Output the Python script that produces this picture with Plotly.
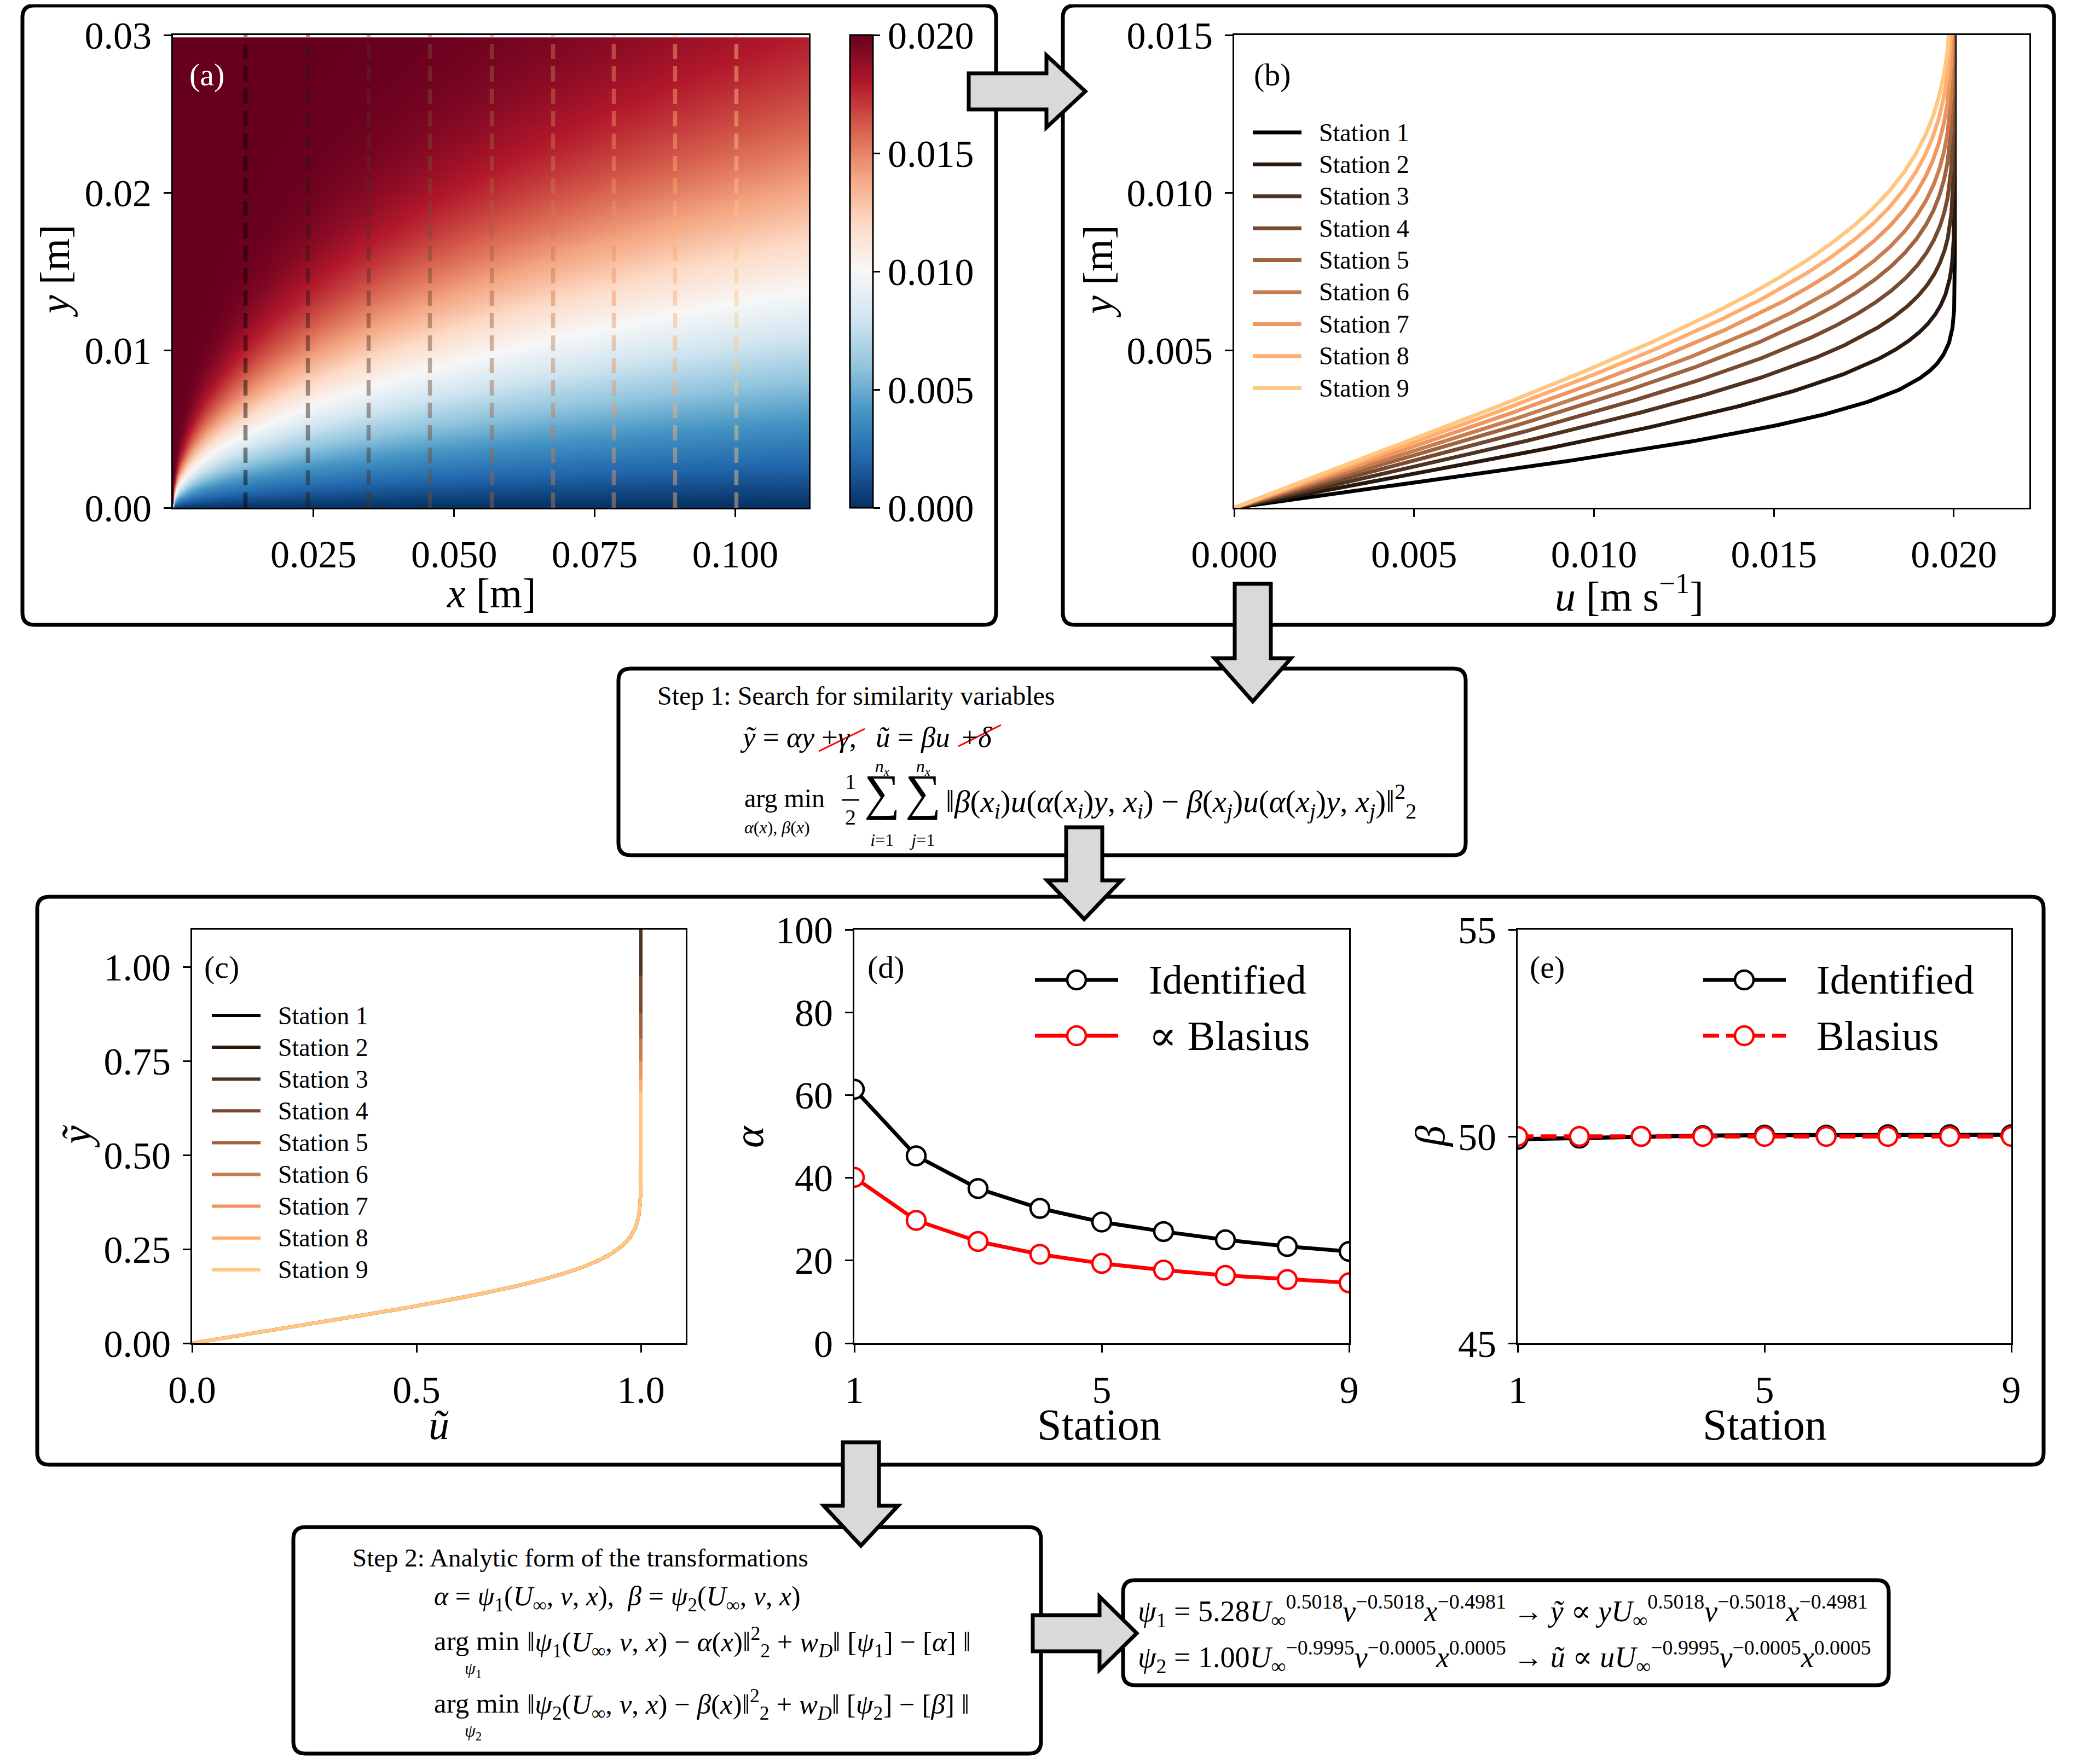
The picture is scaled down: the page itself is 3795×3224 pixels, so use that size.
import numpy as np
import plotly.graph_objects as go

W, H = 3795, 3224
PAGE_OFFSET = 8          # default body margin of the html page
SERIF = "Liberation Serif, DejaVu Serif, serif"

# ---------------- data ----------------
stations = [1, 2, 3, 4, 5, 6, 7, 8, 9]
station_x = [0.0129, 0.0240, 0.0348, 0.0457, 0.0567, 0.0676, 0.0784, 0.0893, 0.1002]
alpha_identified = [61.4, 45.3, 37.4, 32.6, 29.3, 27.0, 25.0, 23.4, 22.2]
alpha_blasius = [40.1, 29.7, 24.6, 21.5, 19.3, 17.7, 16.4, 15.4, 14.6]
beta_identified = [49.93, 49.96, 50.00, 50.02, 50.03, 50.03, 50.04, 50.04, 50.04]
beta_blasius = [50.0, 50.0, 50.0, 50.0, 50.0, 50.0, 50.0, 50.0, 50.0]
# collapsed similarity profile (panel c): u_tilde as a function of y_tilde
profile_y_tilde = [0.0, 0.0128, 0.0256, 0.0384, 0.0512, 0.064, 0.0768, 0.0896, 0.1024,
                   0.1152, 0.128, 0.1408, 0.1536, 0.1664, 0.1792, 0.192, 0.2048, 0.2176,
                   0.2304, 0.2432, 0.256, 0.2688, 0.2816, 0.2944, 0.3072, 0.32, 0.3328,
                   0.3456, 0.3584, 0.3712, 0.384, 0.4096, 0.448]
profile_u_tilde = [0.0, 0.0664, 0.1328, 0.1989, 0.2647, 0.3298, 0.3938, 0.4563, 0.5168,
                   0.5748, 0.6298, 0.6813, 0.7290, 0.7725, 0.8115, 0.8460, 0.8761, 0.9018,
                   0.9233, 0.9411, 0.9555, 0.9670, 0.9759, 0.9827, 0.9878, 0.9916, 0.9943,
                   0.9962, 0.9975, 0.9984, 0.9990, 0.9996, 1.0]
u_inf = 0.02
heat_ref_x = 0.1        # x where the u = U/2 contour height was read in panel (a)
heat_half_y = 0.0130    # height of the u = U/2 contour at heat_ref_x
y_max_data = 0.03

ticks_a_x = [0.025, 0.050, 0.075, 0.100]
ticks_a_y = [0.00, 0.01, 0.02, 0.03]
ticks_cbar = [0.000, 0.005, 0.010, 0.015, 0.020]
ticks_b_x = [0.000, 0.005, 0.010, 0.015, 0.020]
ticks_b_y = [0.005, 0.010, 0.015]
ticks_c_x = [0.0, 0.5, 1.0]
ticks_c_y = [0.00, 0.25, 0.50, 0.75, 1.00]
ticks_d_y = [0, 20, 40, 60, 80, 100]
ticks_e_y = [45, 50, 55]
ticks_station = [1, 5, 9]

RDBU_R = [[0.0, "rgb(5,48,97)"], [0.1, "rgb(33,102,172)"], [0.2, "rgb(67,147,195)"],
          [0.3, "rgb(146,197,222)"], [0.4, "rgb(209,229,240)"], [0.5, "rgb(247,247,247)"],
          [0.6, "rgb(253,219,199)"], [0.7, "rgb(244,165,130)"], [0.8, "rgb(214,96,77)"],
          [0.9, "rgb(178,24,43)"], [1.0, "rgb(103,0,31)"]]


def copper(t):
    r = min(1.0, 1.25 * t)
    g = 0.7812 * t
    b = 0.4975 * t
    return "rgb(%d,%d,%d)" % (round(255 * r), round(255 * g), round(255 * b))


station_colors = [copper(i / 8) for i in range(9)]

TICK = 70
TITLE = 76
NB = "\u00a0"


# ---------------- helpers (page pixel -> paper fraction) ----------------
def X(p):
    return (p - PAGE_OFFSET) / W


def Y(p):
    return 1 - (p - PAGE_OFFSET) / H


def ann(x, y, text, size, xanchor="left", color="black", angle=0, yanchor="middle", align="center"):
    return dict(x=X(x), y=Y(y), xref="paper", yref="paper", text=text, showarrow=False,
                xanchor=xanchor, yanchor=yanchor, textangle=angle, align=align,
                font=dict(family=SERIF, size=size, color=color))


def sz(text, size):
    return f"<span style='font-size:{size}px'>{text}</span>"


def rounded_box(x0, y0, x1, y1, r=22, lw=7):
    p = (f"M {X(x0 + r)},{Y(y0)} L {X(x1 - r)},{Y(y0)} Q {X(x1)},{Y(y0)} {X(x1)},{Y(y0 + r)} "
         f"L {X(x1)},{Y(y1 - r)} Q {X(x1)},{Y(y1)} {X(x1 - r)},{Y(y1)} "
         f"L {X(x0 + r)},{Y(y1)} Q {X(x0)},{Y(y1)} {X(x0)},{Y(y1 - r)} "
         f"L {X(x0)},{Y(y0 + r)} Q {X(x0)},{Y(y0)} {X(x0 + r)},{Y(y0)} Z")
    return dict(type="path", path=p, xref="paper", yref="paper",
                line=dict(color="black", width=lw), fillcolor="rgba(0,0,0,0)", layer="above")


def right_arrow(x0, xb, xt, yc, hs, hh):
    pts = [(x0, yc - hs), (xb, yc - hs), (xb, yc - hh), (xt, yc), (xb, yc + hh), (xb, yc + hs), (x0, yc + hs)]
    p = "M " + " L ".join(f"{X(a)},{Y(b)}" for a, b in pts) + " Z"
    return dict(type="path", path=p, xref="paper", yref="paper",
                line=dict(color="black", width=7), fillcolor="#d9d9d9", layer="above")


def down_arrow(xc, y0, yb, yt, hs, hh):
    pts = [(xc - hs, y0), (xc + hs, y0), (xc + hs, yb), (xc + hh, yb), (xc, yt), (xc - hh, yb), (xc - hs, yb)]
    p = "M " + " L ".join(f"{X(a)},{Y(b)}" for a, b in pts) + " Z"
    return dict(type="path", path=p, xref="paper", yref="paper",
                line=dict(color="black", width=7), fillcolor="#d9d9d9", layer="above")


def pline(x0, y0, x1, y1, color="black", width=6, dash="solid"):
    return dict(type="line", xref="paper", yref="paper", x0=X(x0), y0=Y(y0), x1=X(x1), y1=Y(y1),
                line=dict(color=color, width=width, dash=dash), layer="above")


def pcircle(xc, yc, r, color, width=4.5):
    return dict(type="circle", xref="paper", yref="paper", x0=X(xc - r), x1=X(xc + r),
                y0=Y(yc + r), y1=Y(yc - r), line=dict(color=color, width=width),
                fillcolor="white", layer="above")


def axis(dom_px, rng, tickvals, fmt, anchor, vertical=False):
    if vertical:
        domain = [Y(dom_px[1]), Y(dom_px[0])]
    else:
        domain = [X(dom_px[0]), X(dom_px[1])]
    return dict(domain=domain, range=rng, tickmode="array", tickvals=tickvals,
                ticktext=[format(v, fmt) for v in tickvals], showline=True, linecolor="black",
                linewidth=3, mirror=True, ticks="outside", ticklen=14, tickwidth=3,
                tickcolor="black", tickfont=dict(family=SERIF, size=TICK, color="black"),
                showgrid=False, zeroline=False, anchor=anchor, ticklabelstandoff=8,
                automargin=False)


# ---------------- derived fields ----------------
yt_half = float(np.interp(0.5, profile_u_tilde, profile_y_tilde))
hx = np.linspace(1e-5, 0.1131, 380)
hy = np.linspace(0.0, 0.0298, 300)
HX, HY = np.meshgrid(hx, hy)
scale = (yt_half / heat_half_y) * np.sqrt(heat_ref_x / HX)
Z = u_inf * np.interp(HY * scale, profile_y_tilde, profile_u_tilde, right=1.0)

y_grid = np.linspace(0.0, y_max_data, 1201)
u_profiles = [np.interp(a * y_grid, profile_y_tilde, profile_u_tilde, right=1.0) / b
              for a, b in zip(alpha_identified, beta_identified)]

fig = go.Figure()

# panel (a)
fig.add_trace(go.Heatmap(
    x=hx, y=hy, z=Z, colorscale=RDBU_R, zmin=0, zmax=0.02, zsmooth="best",
    xaxis="x", yaxis="y", hoverinfo="skip",
    colorbar=dict(x=X(1553), xanchor="left", xref="paper", y=Y(496), yanchor="middle",
                  yref="paper", len=864 / H, lenmode="fraction", thickness=42,
                  thicknessmode="pixels", outlinewidth=3, outlinecolor="black",
                  tickmode="array", tickvals=ticks_cbar,
                  ticktext=[format(v, ".3f") for v in ticks_cbar], ticks="outside",
                  ticklen=12, tickwidth=3, tickcolor="black",
                  tickfont=dict(family=SERIF, size=TICK, color="black"), xpad=0, ypad=0)))
for sx, c in zip(station_x, station_colors):
    fig.add_trace(go.Scatter(x=[sx, sx], y=[0, y_max_data], mode="lines", opacity=0.45,
                             line=dict(color=c, width=7.5, dash="28px,13px"),
                             xaxis="x", yaxis="y", showlegend=False, hoverinfo="skip"))

# panel (b)
for s, u, c in zip(stations, u_profiles, station_colors):
    fig.add_trace(go.Scatter(x=u, y=y_grid, mode="lines", line=dict(color=c, width=7),
                             name=f"Station {s}", xaxis="x2", yaxis="y2", showlegend=False))

# panel (c)
for s, u, a, b, c in zip(stations, u_profiles, alpha_identified, beta_identified, station_colors):
    fig.add_trace(go.Scatter(x=b * u, y=a * y_grid, mode="lines", line=dict(color=c, width=6),
                             name=f"Station {s}", xaxis="x3", yaxis="y3", showlegend=False))

# panel (d)
fig.add_trace(go.Scatter(x=stations, y=alpha_identified, mode="lines+markers",
                         line=dict(color="black", width=7),
                         marker=dict(symbol="circle", size=34, color="white",
                                     line=dict(color="black", width=4.5)),
                         name="Identified", xaxis="x4", yaxis="y4", showlegend=False))
fig.add_trace(go.Scatter(x=stations, y=alpha_blasius, mode="lines+markers",
                         line=dict(color="red", width=7),
                         marker=dict(symbol="circle", size=34, color="white",
                                     line=dict(color="red", width=4.5)),
                         name="∝ Blasius", xaxis="x4", yaxis="y4", showlegend=False))

# panel (e)
fig.add_trace(go.Scatter(x=stations, y=beta_identified, mode="lines+markers",
                         line=dict(color="black", width=7.5),
                         marker=dict(symbol="circle", size=34, color="white",
                                     line=dict(color="black", width=4.5)),
                         name="Identified", xaxis="x5", yaxis="y5", showlegend=False))
fig.add_trace(go.Scatter(x=stations, y=beta_blasius, mode="lines+markers",
                         line=dict(color="red", width=7.5, dash="29px,13px"),
                         marker=dict(symbol="circle", size=34, color="white",
                                     line=dict(color="red", width=4.5)),
                         name="Blasius", xaxis="x5", yaxis="y5", showlegend=False))

# ---------------- axes ----------------
PA = (316, 1478, 64, 928)
PB = (2255, 3708, 64, 928)
PC = (351, 1253, 1699, 2455)
PD = (1561, 2465, 1699, 2455)
PE = (2773, 3675, 1699, 2455)

layout_axes = dict(
    xaxis=axis(PA[:2], [0, 0.1131], ticks_a_x, ".3f", "y"),
    yaxis=axis(PA[2:], [0, 0.03], ticks_a_y, ".2f", "x", vertical=True),
    xaxis2=axis(PB[:2], [0, 0.0221], ticks_b_x, ".3f", "y2"),
    yaxis2=axis(PB[2:], [0, 0.015], ticks_b_y, ".3f", "x2", vertical=True),
    xaxis3=axis(PC[:2], [0, 1.1], ticks_c_x, ".1f", "y3"),
    yaxis3=axis(PC[2:], [0, 1.1], ticks_c_y, ".2f", "x3", vertical=True),
    xaxis4=axis(PD[:2], [1, 9], ticks_station, "d", "y4"),
    yaxis4=axis(PD[2:], [0, 100], ticks_d_y, "d", "x4", vertical=True),
    xaxis5=axis(PE[:2], [1, 9], ticks_station, "d", "y5"),
    yaxis5=axis(PE[2:], [45, 55], ticks_e_y, "d", "x5", vertical=True),
)

# ---------------- shapes ----------------
shapes = [
    rounded_box(41, 10, 1820, 1142),
    rounded_box(1942, 10, 3753, 1142),
    rounded_box(1130, 1222, 2678, 1563),
    rounded_box(68, 1639, 3734, 2677),
    rounded_box(536, 2791, 1902, 3205),
    rounded_box(2052, 2888, 3451, 3080),
    right_arrow(1770, 1912, 1983, 167, 33, 66),
    down_arrow(2289, 1067, 1203, 1282, 33, 70),
    down_arrow(1981, 1512, 1609, 1680, 33, 68),
    down_arrow(1573, 2636, 2752, 2825, 33, 68),
    right_arrow(1887, 2009, 2077, 2985, 33, 67),
    # red strike-throughs in step 1
    pline(1496, 1373, 1580, 1332, color="red", width=3),
    pline(1751, 1364, 1829, 1325, color="red", width=3),
    # fraction bar
    pline(1538, 1462, 1570, 1462, color="black", width=3),
]

# legends of panels (b) and (c)
leg_b_y = [242 + k * 58.4 for k in range(9)]
leg_c_y = [1856 + k * 58.1 for k in range(9)]
annotations = []
for k, c in enumerate(station_colors):
    shapes.append(pline(2289, leg_b_y[k], 2378, leg_b_y[k], color=c, width=7))
    annotations.append(ann(2408, leg_b_y[k], f"Station {stations[k]}", 46))
    shapes.append(pline(387, leg_c_y[k], 476, leg_c_y[k], color=c, width=6))
    annotations.append(ann(506, leg_c_y[k], f"Station {stations[k]}", 46))

# legends of panels (d) and (e)
shapes += [
    pline(1891, 1791, 2043, 1791, "black", 7), pcircle(1967, 1791, 17, "black"),
    pline(1891, 1893, 2043, 1893, "red", 7), pcircle(1967, 1893, 17, "red"),
    pline(3112, 1791, 3263, 1791, "black", 7), pcircle(3187, 1791, 17, "black"),
    pline(3112, 1893, 3263, 1893, "red", 7, dash="29px,13px"), pcircle(3187, 1893, 17, "red"),
]
annotations += [
    ann(2097, 1791, "Identified", 74), ann(2097, 1893, "∝ Blasius", 76),
    ann(3317, 1791, "Identified", 74), ann(3317, 1893, "Blasius", 76),
]

# panel labels
annotations += [
    ann(344, 136, "(a)", 58, color="white"), ann(2289, 136, "(b)", 58),
    ann(371, 1767, "(c)", 58), ann(1583, 1767, "(d)", 58), ann(2793, 1767, "(e)", 58),
]

# axis titles
annotations += [
    ann(897, 1084, "<i>x</i> [m]", TITLE, xanchor="center"),
    ann(100, 496, "<i>y</i> [m]", TITLE, xanchor="center", angle=-90),
    ann(2977, 1084, "<i>u</i> [m s<sup>−1</sup>]", TITLE, xanchor="center"),
    ann(2006, 496, "<i>y</i> [m]", TITLE, xanchor="center", angle=-90),
    ann(802, 2604, "<i>ũ</i>", TITLE, xanchor="center"),
    ann(140, 2077, "<i>ỹ</i>", TITLE, xanchor="center", angle=-90),
    ann(2009, 2604, "Station", 80, xanchor="center"),
    ann(1368, 2077, "<i>α</i>", TITLE, xanchor="center", angle=-90),
    ann(3224, 2604, "Station", 80, xanchor="center"),
    ann(2613, 2077, "<i>β</i>", TITLE, xanchor="center", angle=-90),
]

# step 1 box
annotations += [
    ann(1199, 1271, "Step 1: Search for similarity variables", 48),
    ann(1350, 1347, "<i>ỹ</i> = <i>αy</i>", 53),
    ann(1499, 1347, "+<i>γ</i>,", 53),
    ann(1598, 1347, "<i>ũ</i> = <i>βu</i>", 53),
    ann(1755, 1347, "+<i>δ</i>", 53),
    ann(1358, 1481, sz("arg min", 48) + "<br>" + sz("<i>α</i>(<i>x</i>), <i>β</i>(<i>x</i>)", 32),
        37, align="left"),
    ann(1554, 1461, sz("1", 40) + "<br>" + sz("2", 40), 50, xanchor="center"),
    ann(1612, 1467, sz("<i>n<sub>x</sub></i>", 32) + "<br>" + sz("∑", 92) + "<br>" + sz("<i>i</i>=1", 32),
        52, xanchor="center"),
    ann(1687, 1467, sz("<i>n<sub>x</sub></i>", 32) + "<br>" + sz("∑", 92) + "<br>" + sz("<i>j</i>=1", 32),
        52, xanchor="center"),
    ann(1726, 1464,
        "‖<i>β</i>(<i>x<sub>i</sub></i>)<i>u</i>(<i>α</i>(<i>x<sub>i</sub></i>)<i>y</i>, <i>x<sub>i</sub></i>)"
        " − <i>β</i>(<i>x<sub>j</sub></i>)<i>u</i>(<i>α</i>(<i>x<sub>j</sub></i>)<i>y</i>, <i>x<sub>j</sub></i>)‖"
        "<sup>2</sup><sub>2</sub>", 57),
]

# step 2 box
annotations += [
    ann(642, 2847, "Step 2: Analytic form of the transformations", 47),
    ann(791, 2921,
        "<i>α</i> = <i>ψ</i><sub>1</sub>(<i>U</i><sub>∞</sub>, <i>ν</i>, <i>x</i>),  "
        "<i>β</i> = <i>ψ</i><sub>2</sub>(<i>U</i><sub>∞</sub>, <i>ν</i>, <i>x</i>)", 50),
    ann(791, 3021, sz("arg min", 51) + "<br>" + sz(NB * 7 + "<i>ψ</i><sub>1</sub>", 32), 34, align="left"),
    ann(961, 3001,
        "‖<i>ψ</i><sub>1</sub>(<i>U</i><sub>∞</sub>, <i>ν</i>, <i>x</i>) − <i>α</i>(<i>x</i>)‖"
        "<sup>2</sup><sub>2</sub> + <i>w<sub>D</sub></i>‖ [<i>ψ</i><sub>1</sub>] − [<i>α</i>] ‖", 51),
    ann(791, 3135, sz("arg min", 51) + "<br>" + sz(NB * 7 + "<i>ψ</i><sub>2</sub>", 32), 34, align="left"),
    ann(961, 3115,
        "‖<i>ψ</i><sub>2</sub>(<i>U</i><sub>∞</sub>, <i>ν</i>, <i>x</i>) − <i>β</i>(<i>x</i>)‖"
        "<sup>2</sup><sub>2</sub> + <i>w<sub>D</sub></i>‖ [<i>ψ</i><sub>2</sub>] − [<i>β</i>] ‖", 51),
]

# result box
annotations += [
    ann(2077, 2944,
        "<i>ψ</i><sub>1</sub> = 5.28<i>U</i><sub>∞</sub><sup>0.5018</sup><i>ν</i><sup>−0.5018</sup>"
        "<i>x</i><sup>−0.4981</sup> → <i>ỹ</i> ∝ <i>yU</i><sub>∞</sub><sup>0.5018</sup>"
        "<i>ν</i><sup>−0.5018</sup><i>x</i><sup>−0.4981</sup>", 54),
    ann(2077, 3028,
        "<i>ψ</i><sub>2</sub> = 1.00<i>U</i><sub>∞</sub><sup>−0.9995</sup><i>ν</i><sup>−0.0005</sup>"
        "<i>x</i><sup>0.0005</sup> → <i>ũ</i> ∝ <i>uU</i><sub>∞</sub><sup>−0.9995</sup>"
        "<i>ν</i><sup>−0.0005</sup><i>x</i><sup>0.0005</sup>", 54),
]

fig.update_layout(
    width=W, height=H, margin=dict(l=0, r=0, t=0, b=0, pad=0, autoexpand=False),
    paper_bgcolor="white", plot_bgcolor="white", showlegend=False,
    font=dict(family=SERIF, color="black"),
    shapes=shapes, annotations=annotations, **layout_axes,
)

fig.write_html("out.html")
